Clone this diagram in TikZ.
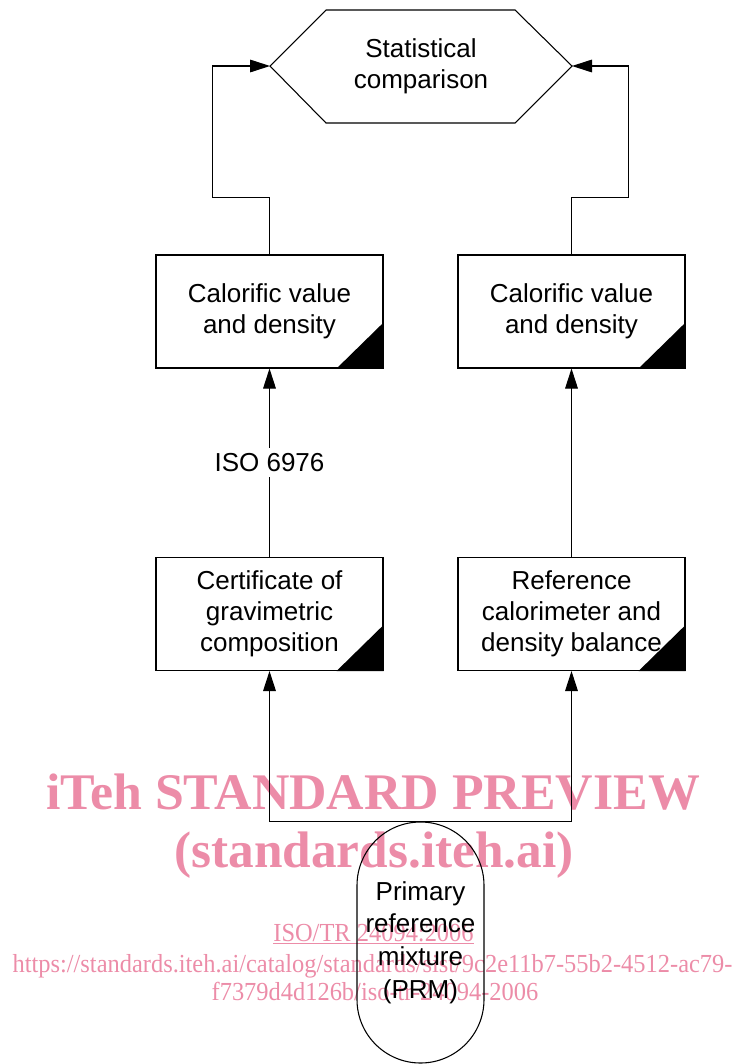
\documentclass[tikz,border=0pt]{standalone}
\usepackage{fontspec}
\setmainfont{Liberation Sans}
\newfontfamily\wmfont{Liberation Serif}
\usetikzlibrary{arrows.meta}
\definecolor{wmpink}{RGB}{236,140,168}
\begin{document}
\begin{tikzpicture}[x=0.75pt,y=-0.75pt,line width=0.8pt,
  txt/.style={font=\fontsize{19.5}{23.25}\selectfont,align=center,inner sep=1pt},
  procbox/.style={draw,fill=white,minimum width=170.25pt,minimum height=84.75pt,txt},
  arr/.style={-{Triangle[length=15pt,width=9.5pt]}},
  wmbig/.style={text=wmpink,font=\wmfont\bfseries\fontsize{38.5}{40}\selectfont,anchor=base,inner sep=0pt},
  wmsmall/.style={text=wmpink,font=\wmfont\fontsize{19.5}{21}\selectfont,anchor=base,inner sep=0pt}]
\useasboundingbox (0,0) rectangle (739,1064);
% watermark
\node[wmbig] (wm1) at (373,809) {\scalebox{1.01}[1]{iTeh STANDARD PREVIEW}};
\node[wmbig] (wm2) at (374,867) {(standards.iteh.ai)};
\node[wmsmall] (wm3) at (373.5,941) {\scalebox{0.94}[1]{\underline{ISO/TR 24094:2006}}};
\node[wmsmall] (wm4) at (372.5,972) {\scalebox{0.94}[1]{https://standards.iteh.ai/catalog/standards/sist/9c2e11b7-55b2-4512-ac79-}};
\node[wmsmall] (wm5) at (375,1000) {\scalebox{0.94}[1]{f7379d4d126b/iso-tr-24094-2006}};
% hexagon
\draw (326,10) -- (515,10) -- (572,66) -- (515,123) -- (326,123) -- (270,66) -- cycle;
\node[txt] (hex) at (421,66) {Statistical\\comparison};
\coordinate (hexL) at (270,66);
\coordinate (hexR) at (572,66);
% boxes
\node[procbox] (b1) at (269.5,311.5) {Calorific value\\and density};
\node[procbox] (b2) at (571.5,311.5) {Calorific value\\and density};
\node[procbox] (b3) at (269.5,614) {Certificate of\\gravimetric\\composition};
\node[procbox] (b4) at (571.5,614) {Reference\\calorimeter and\\density balance};
\foreach \b in {b1,b2,b3,b4}{
  \fill (\b.south east) -- ++(-47,0) -- ++(47,-46) -- cycle;
}
% PRM
\node[draw,minimum width=95.25pt,minimum height=180.75pt,rounded corners=47.6pt,txt,
  font=\fontsize{19.5}{24.5}\selectfont] (prm) at (420.5,942.5) {Primary\\reference\\mixture\\(PRM)};
% connectors
\draw[arr] (b1.north) -- ++(0,-57) -- ++(-57,0) |- (hexL);
\draw[arr] (b2.north) -- ++(0,-57) -- ++(57,0) |- (hexR);
\draw[arr] (b3.north) -- node[fill=white,txt,inner sep=4pt] (iso) {ISO 6976} (b1.south);
\draw[arr] (b4.north) -- (b2.south);
\draw[arr] (prm.north) -| (b3.south);
\draw[arr] (prm.north) -| (b4.south);
\end{tikzpicture}
\end{document}
